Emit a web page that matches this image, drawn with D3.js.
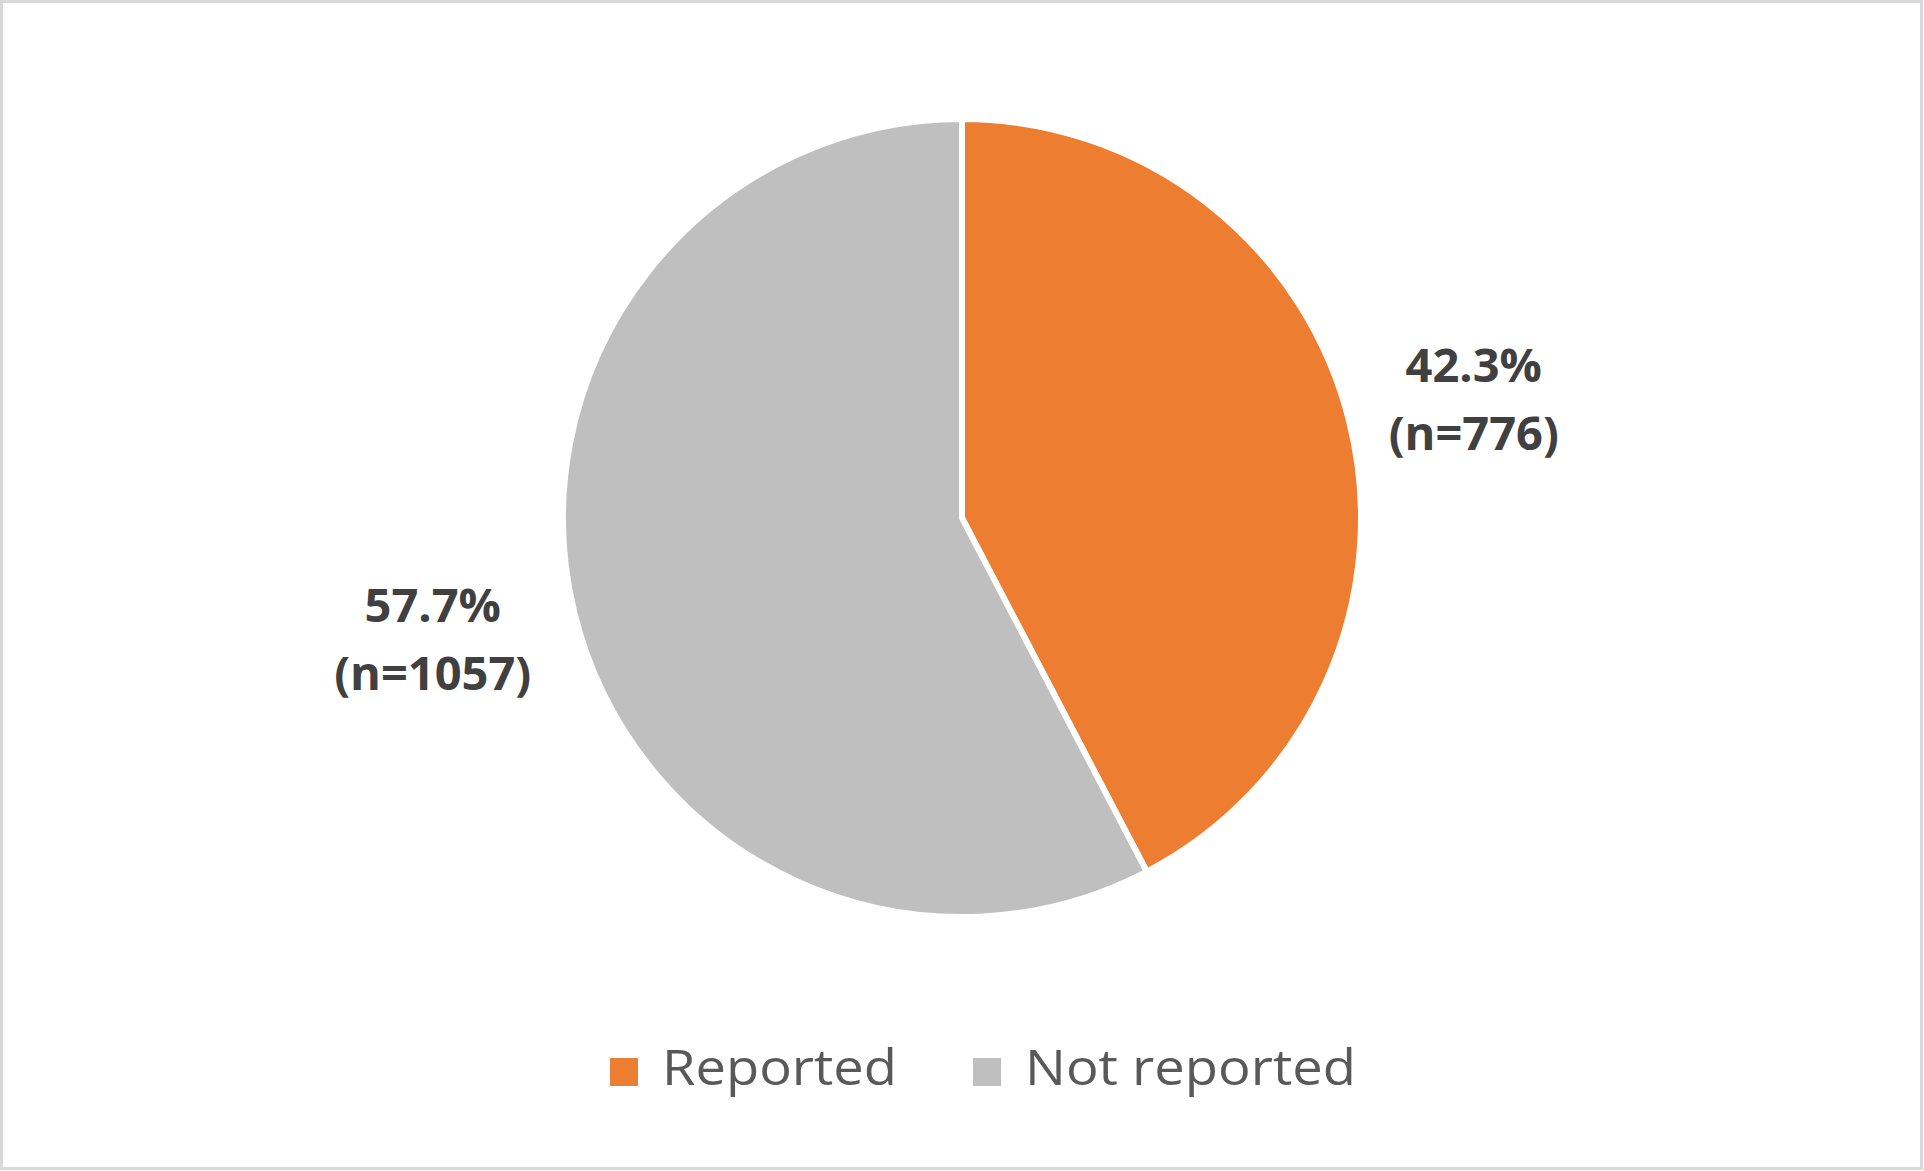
<!DOCTYPE html>
<html>
<head>
<meta charset="utf-8">
<script src="https://cdn.jsdelivr.net/npm/d3@7"></script>
<style>
html,body{margin:0;padding:0;background:#fff;}
svg{display:block;}
</style>
</head>
<body>
<svg id="chart" width="1924" height="1171"></svg>
<script>
const categories = ["Reported", "Not reported"];
const counts = [776, 1057];
const percentLabels = ["42.3%", "57.7%"];
const colors = ["#ED7D31", "#BFBFBF"];

const W = 1924, H = 1171;
const svg = d3.select("#chart");

svg.append("rect").attr("x", 1.5).attr("y", 1.5).attr("width", W - 4).attr("height", H - 4)
  .attr("fill", "#fff").attr("stroke", "#D9D9D9").attr("stroke-width", 3);

const cx = 962, cy = 518, R = 399;
const g = svg.append("g").attr("transform", `translate(${cx},${cy})`);

const pie = d3.pie().sort(null).value(d => d.v);
const data = pie(categories.map((c, i) => ({c, v: counts[i], i})));
const arc = d3.arc().innerRadius(0).outerRadius(R);

g.selectAll("path.slice").data(data).enter().append("path")
  .attr("class", "slice")
  .attr("d", arc)
  .attr("fill", d => colors[d.data.i])
  .attr("stroke", "#fff").attr("stroke-width", 6).attr("stroke-linejoin", "miter");

const labelR = [527, 545];
const labelShift = [10, -6];
data.forEach((d, i) => {
  const la = d3.arc().innerRadius(labelR[i]).outerRadius(labelR[i]);
  const [x, y0] = la.centroid(d);
  const y = y0 + labelShift[i];
  const t = g.append("text").attr("text-anchor", "middle")
    .attr("font-family", "'Open Sans', sans-serif").attr("font-weight", "bold")
    .attr("font-size", 47).attr("fill", "#404040");
  t.append("tspan").attr("x", x).attr("y", y - 20).text(percentLabels[i]);
  t.append("tspan").attr("x", x).attr("y", y + 48).text("(n=" + counts[i] + ")");
});

// legend
const legend = svg.append("g");
const legX = [610, 973];
const textW = [235, 331];
categories.forEach((c, i) => {
  legend.append("rect").attr("x", legX[i]).attr("y", 1058).attr("width", 28).attr("height", 28)
    .attr("fill", colors[i]);
  legend.append("text").attr("x", legX[i] + 52).attr("y", 1085)
    .attr("font-family", "'Open Sans', sans-serif").attr("font-size", 49)
    .attr("fill", "#595959")
    .attr("textLength", textW[i]).attr("lengthAdjust", "spacingAndGlyphs")
    .text(c);
});
</script>
</body>
</html>
